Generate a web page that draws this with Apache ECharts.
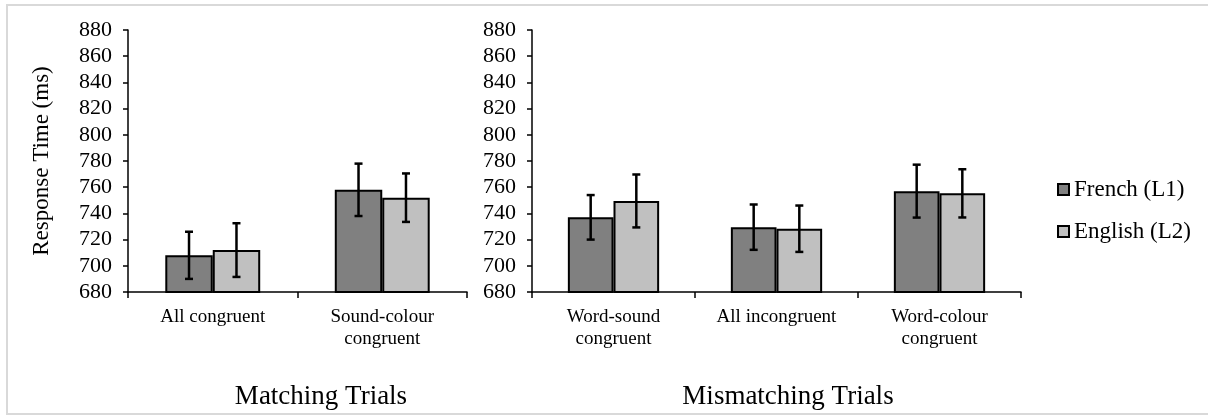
<!DOCTYPE html>
<html>
<head>
<meta charset="utf-8">
<script src="https://cdn.jsdelivr.net/npm/echarts@6/dist/echarts.min.js"></script>
<style>
  html, body { margin: 0; padding: 0; background: #fff; }
  #chart { width: 1208px; height: 416px; }
</style>
</head>
<body>
<div id="chart"></div>
<script>
// matching trials
const matchCats = ['All congruent', 'Sound-colour\ncongruent']
const matchFrench = [708, 758]
const matchFrenchErr = [18, 20]
const matchEnglish = [712, 752]
const matchEnglishErr = [20.5, 18.5]

// mismatching trials
const mismatchCats = ['Word-sound\ncongruent', 'All incongruent', 'Word-colour\ncongruent']
const mismatchFrench = [737, 729.5, 757]
const mismatchFrenchErr = [17, 17.3, 20.2]
const mismatchEnglish = [749.5, 728.3, 755.3]
const mismatchEnglishErr = [20.2, 17.7, 18.4]

const yMin = 680
const yMax = 880
const yStep = 20

const serif = "'Liberation Serif', 'DejaVu Serif', serif"
const barFrac = 0.28

const chart = echarts.init(document.getElementById('chart'))

const errData = (vals, errs) => vals.map((v, i) => [i, v - errs[i], v + errs[i]])

// side: -1 left bar, +1 right bar
const errRender = (side) => (params, api) => {
  const catW = api.size([1, 0])[0]
  const off = side * catW * barFrac / 2
  const hi = api.coord([api.value(0), api.value(2)])
  const lo = api.coord([api.value(0), api.value(1)])
  const x = hi[0] + off
  const cap = 4
  const st = { stroke: '#000', lineWidth: 2.5 }
  return {
    type: 'group',
    children: [
      { type: 'line', shape: { x1: x, y1: hi[1], x2: x, y2: lo[1] }, style: st },
      { type: 'line', shape: { x1: x - cap, y1: hi[1], x2: x + cap, y2: hi[1] }, style: st },
      { type: 'line', shape: { x1: x - cap, y1: lo[1], x2: x + cap, y2: lo[1] }, style: st }
    ]
  }
}

const xAxisBase = (cats, idx) => ({
  type: 'category',
  gridIndex: idx,
  data: cats,
  axisLine: { lineStyle: { color: '#000', width: 1.5 } },
  axisTick: { show: true, length: 6, lineStyle: { color: '#000', width: 1.5 } },
  axisLabel: { interval: 0, color: '#000', fontFamily: serif, fontSize: 19, lineHeight: 22, margin: 14 }
})

const yAxisBase = (idx, withName) => ({
  type: 'value',
  gridIndex: idx,
  min: yMin,
  max: yMax,
  interval: yStep,
  name: withName ? 'Response Time (ms)' : '',
  nameLocation: 'middle',
  nameGap: 75,
  nameTextStyle: { color: '#000', fontFamily: serif, fontSize: 23 },
  splitLine: { show: false },
  axisLine: { show: true, lineStyle: { color: '#000', width: 1.5 } },
  axisTick: { show: true, length: 5, lineStyle: { color: '#000', width: 1.5 } },
  axisLabel: { color: '#000', fontFamily: serif, fontSize: 22, margin: 16 }
})

const barBase = (name, color, vals, idx) => ({
  name: name,
  type: 'bar',
  xAxisIndex: idx,
  yAxisIndex: idx,
  data: vals,
  barWidth: barFrac * 100 + '%',
  barGap: '0%',
  itemStyle: { color: color, borderColor: '#000', borderWidth: 2 },
  z: 2
})

const errBase = (vals, errs, idx, side) => ({
  type: 'custom',
  xAxisIndex: idx,
  yAxisIndex: idx,
  data: errData(vals, errs),
  encode: { x: 0, y: [1, 2] },
  renderItem: errRender(side),
  z: 3,
  silent: true
})

const options = {
  animation: false,
  backgroundColor: '#fff',
  grid: [
    { left: 128, top: 30, width: 339, height: 262 },
    { left: 532, top: 30, width: 489, height: 262 }
  ],
  legend: {
    data: ['French (L1)', 'English (L2)'],
    orient: 'vertical',
    left: 1057,
    top: 178,
    padding: 0,
    itemWidth: 11,
    itemHeight: 11,
    itemGap: 19,
    icon: 'rect',
    textStyle: { color: '#000', fontFamily: serif, fontSize: 23 }
  },
  xAxis: [xAxisBase(matchCats, 0), xAxisBase(mismatchCats, 1)],
  yAxis: [yAxisBase(0, true), yAxisBase(1, false)],
  series: [
    barBase('French (L1)', '#808080', matchFrench, 0),
    barBase('English (L2)', '#c0c0c0', matchEnglish, 0),
    errBase(matchFrench, matchFrenchErr, 0, -1),
    errBase(matchEnglish, matchEnglishErr, 0, 1),
    barBase('French (L1)', '#808080', mismatchFrench, 1),
    barBase('English (L2)', '#c0c0c0', mismatchEnglish, 1),
    errBase(mismatchFrench, mismatchFrenchErr, 1, -1),
    errBase(mismatchEnglish, mismatchEnglishErr, 1, 1)
  ],
  graphic: [
    {
      type: 'rect',
      shape: { x: 7, y: 5, width: 1210, height: 409 },
      style: { fill: 'none', stroke: '#d9d9d9', lineWidth: 2 },
      silent: true
    },
    {
      type: 'text',
      x: 321,
      y: 397,
      style: { text: 'Matching Trials', fill: '#000', fontFamily: serif, fontSize: 27, align: 'center', verticalAlign: 'middle' }
    },
    {
      type: 'text',
      x: 788,
      y: 397,
      style: { text: 'Mismatching Trials', fill: '#000', fontFamily: serif, fontSize: 27, align: 'center', verticalAlign: 'middle' }
    }
  ]
}

chart.setOption(options)
</script>
</body>
</html>
